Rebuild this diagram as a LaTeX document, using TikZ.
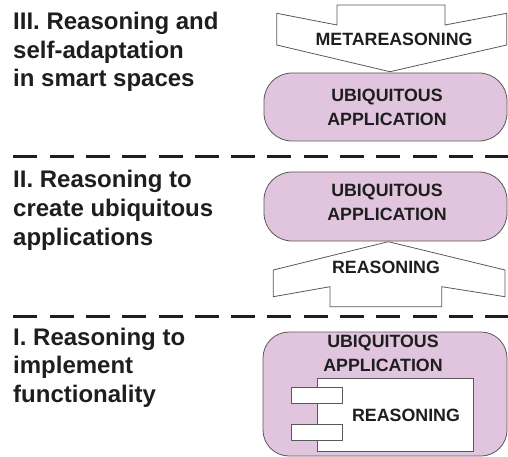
\documentclass[tikz,border=0pt]{standalone}
\usepackage{fontspec}
\setmainfont{Liberation Sans}
\definecolor{appfill}{RGB}{225,197,223}
\definecolor{ink}{RGB}{30,30,30}
\begin{document}
\begin{tikzpicture}[x=1pt,y=-1pt,
  lbl/.style={anchor=base west, inner sep=0pt, text=ink, font=\fontsize{24}{28}\selectfont\bfseries},
  box/.style={draw=black!65, line width=0.8pt, fill=appfill, rounded corners=28pt, inner sep=0pt},
  btxt/.style={font=\fontsize{17.8}{23.5}\selectfont\bfseries, text=ink, align=center, inner sep=0pt},
  arr/.style={draw=black!65, line width=0.8pt, fill=white, line join=miter},
  sepline/.style={line width=3pt, dash pattern=on 24pt off 12.3pt, ink},
  comp/.style={draw=black!65, line width=0.8pt, fill=white, inner sep=0pt}]
\useasboundingbox (0,0) rectangle (508,457);

% left labels
\node[lbl] (l3a) at (13,30) {III. Reasoning and};
\node[lbl] (l3b) at (13,58.5) {self-adaptation};
\node[lbl] (l3c) at (13,87) {in smart spaces};
\node[lbl] (l2a) at (13,187) {II. Reasoning to};
\node[lbl] (l2b) at (13,216) {create ubiquitous};
\node[lbl] (l2c) at (13,245) {applications};
\node[lbl] (l1a) at (13,345) {I. Reasoning to};
\node[lbl] (l1b) at (13,373) {implement};
\node[lbl] (l1c) at (13,402) {functionality};

% separators
\coordinate (s1a) at (13.3,157);
\coordinate (s1b) at (508,157);
\coordinate (s2a) at (13.3,316);
\coordinate (s2b) at (508,316);
\draw[sepline] (s1a) -- (s1b);
\draw[sepline] (s2a) -- (s2b);

% section III
\draw[arr] (337,5) -- (445,5) -- (445,25) -- (506.7,13.3) -- (506.7,45) -- (390,71.7)
  -- (276.7,45) -- (276.7,13.3) -- (337,25) -- cycle;
\node[btxt] (meta) at (394,39) {METAREASONING};
\node[box, minimum width=243pt, minimum height=68pt] (app3) at (385.5,107) {};
\node[btxt] (app3t) at (387,107.5) {UBIQUITOUS\\APPLICATION};

% section II
\node[box, minimum width=243pt, minimum height=69pt] (app2) at (385.5,206.5) {};
\node[btxt] (app2t) at (387,202.5) {UBIQUITOUS\\APPLICATION};
\draw[arr] (388.3,241.7) -- (505,270) -- (505,296.7) -- (441.7,286.7) -- (441.7,306.7)
  -- (330,306.7) -- (330,286.7) -- (273.3,296.7) -- (273.3,270) -- cycle;
\node[btxt] (reas2) at (386,267.5) {REASONING};

% section I
\node[box, rounded corners=26pt, minimum width=244pt, minimum height=124pt] (app1) at (385,394) {};
\node[btxt] (app1t) at (383,353.5) {UBIQUITOUS\\APPLICATION};
\node[comp, minimum width=156pt, minimum height=73pt] (rcomp) at (395,414.5) {};
\node[comp, minimum width=51pt, minimum height=16pt] (port1) at (316.5,395) {};
\node[comp, minimum width=51pt, minimum height=16pt] (port2) at (316.5,432) {};
\node[btxt] (reas1) at (406,415) {REASONING};
\end{tikzpicture}
\end{document}
